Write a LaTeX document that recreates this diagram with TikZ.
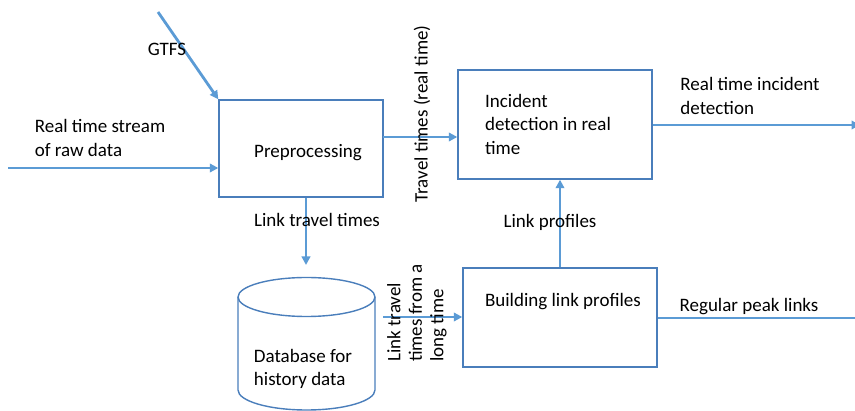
\documentclass[tikz,border=0pt]{standalone}
\usepackage{fontspec}
\setmainfont{Carlito}
\usetikzlibrary{arrows.meta}
\definecolor{boxc}{RGB}{74,126,187}
\definecolor{arrc}{RGB}{91,155,213}
\begin{document}
\begin{tikzpicture}[x=1pt,y=-1pt,
  every node/.style={font=\fontsize{19}{23.5}\selectfont, text=black, inner sep=0pt},
  procbox/.style={draw=boxc, line width=1.4pt, rectangle},
  flow/.style={draw=arrc, line width=2.8pt, -{Triangle[length=8.5pt,width=8.5pt]}},
  plainflow/.style={draw=arrc, line width=2.8pt},
  lbl/.style={align=left}]
\useasboundingbox (0,0) rectangle (855,411);
% boxes
\node[procbox, minimum width=164pt, minimum height=97pt] (pre) at (301,148.5) {};
\node (pret) at (308,153) {Preprocessing};
\node[procbox, minimum width=194pt, minimum height=109pt] (inc) at (555,124.5) {};
\node[lbl] (inct) at (548,124) {Incident\\detection in real\\time};
\node[procbox, minimum width=194pt, minimum height=99pt] (bld) at (560,317.5) {};
\node (bldt) at (563,302) {Building link profiles};
% database cylinder
\draw[boxc, line width=1.4pt] (238,297) -- (238,390) arc[start angle=180, end angle=360, x radius=68.5pt, y radius=20pt] -- (375,297);
\draw[boxc, line width=1.4pt] (306.5,297) ellipse [x radius=68.5pt, y radius=19.5pt];
\node[lbl] (dbt) at (303,369) {Database for\\history data};
% free ends
\coordinate (gtfsS) at (158,12);
\coordinate (rawS) at (8,168);
\coordinate (incOut) at (860,125);
\coordinate (bldOut) at (855,318);
\coordinate (dbTop) at (306,265);
\coordinate (dbE) at (383,317);
\coordinate (preE) at (383,137);
% connectors
\draw[flow] (gtfsS) -- (pre.north west);
\draw[flow] (rawS) -- (rawS -| pre.west);
\draw[flow] (preE) -- (preE -| inc.west);
\draw[flow] (inc.east |- incOut) -- (incOut);
\draw[flow] (pre.south -| dbTop) -- (dbTop);
\draw[flow] (dbE) -- (dbE -| bld.west);
\draw[flow] (bld.north) -- (bld.north |- inc.south);
\draw[plainflow] (bld.east |- bldOut) -- (bldOut);
% labels
\node (gtfsl) at (167,49) {GTFS};
\node[lbl] (rawl) at (100,138) {Real time stream\\of raw data};
\node[rotate=90] (ttl) at (422,114) {Travel times (real time)};
\node[lbl] (ril) at (750,96) {Real time incident\\detection};
\node (ltl) at (317,220) {Link travel times};
\node (lpl) at (550,222) {Link profiles};
\node[lbl, rotate=90, font=\fontsize{19}{21.5}\selectfont] (ltll) at (417,313) {Link travel\\times from a\\long time};
\node (rpl) at (749,307) {Regular peak links};
\end{tikzpicture}
\end{document}
